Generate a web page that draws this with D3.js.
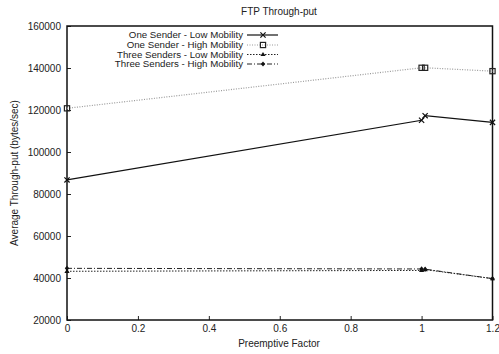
<!DOCTYPE html>
<html><head><meta charset="utf-8">
<script src="https://cdn.jsdelivr.net/npm/d3@7"></script>
<style>body{margin:0;background:#fff}svg text{font-family:"Liberation Sans",Arial,sans-serif;fill:#222}</style>
</head><body>
<svg id="c" width="499" height="354"></svg>
<script>
const xValues = [0, 1, 1.01, 1.2];
const oneLow = [86700, 115100, 117300, 114100];
const oneHigh = [120800, 140100, 140100, 138500];
const threeLow = [43200, 43600, 44000, 39700];
const threeHigh = [44600, 44300, 44200, 39700];
const seriesNames = ["One Sender - Low Mobility","One Sender - High Mobility","Three Senders - Low Mobility","Three Senders - High Mobility"];
const xTicks = [0, 0.2, 0.4, 0.6, 0.8, 1, 1.2];
const yTicks = [20000, 40000, 60000, 80000, 100000, 120000, 140000, 160000];

const svg = d3.select("#c");
const L = 67, R = 492.5, T = 26, B = 320;
const x = d3.scaleLinear().domain([0, 1.2]).range([L, R]);
const y = d3.scaleLinear().domain([20000, 160000]).range([B, T]);

const styles = [
  {stroke:"#111", dash:null, width:1.2, marker:"x"},
  {stroke:"#999", dash:"1,1.5", width:1.2, marker:"box"},
  {stroke:"#222", dash:"1.5,1.5", width:1, marker:"tri"},
  {stroke:"#222", dash:"5,2,1,2", width:1, marker:"dia"}
];
const data = [oneLow, oneHigh, threeLow, threeHigh];

const xAxis = d3.axisBottom(x).tickValues(xTicks).tickSize(-4).tickPadding(6).tickFormat(d3.format("~g"));
const yAxis = d3.axisLeft(y).tickValues(yTicks).tickSize(-4).tickPadding(6).tickFormat(d3.format("d"));
const gx = svg.append("g").attr("transform",`translate(0,${B})`).call(xAxis);
const gy = svg.append("g").attr("transform",`translate(${L},0)`).call(yAxis);
[gx, gy].forEach(g => {
  g.select(".domain").remove();
  g.selectAll("line").attr("stroke","#222");
  g.selectAll("text").attr("font-size","10px").style("font-family","'Liberation Sans',Arial,sans-serif").attr("fill","#222");
});
gx.selectAll("text").attr("dy","0.71em").attr("y",5);

svg.append("rect").attr("x",L).attr("y",T).attr("width",R-L).attr("height",B-T)
  .attr("fill","none").attr("stroke","#111").attr("stroke-width",1.5);

function marker(g, type, cx, cy, col) {
  const s = 2.6;
  if (type === "x") {
    g.append("path").attr("d",`M${cx-s},${cy-s}L${cx+s},${cy+s}M${cx-s},${cy+s}L${cx+s},${cy-s}`).attr("stroke",col).attr("stroke-width",1.2);
  } else if (type === "box") {
    g.append("rect").attr("x",cx-s).attr("y",cy-s).attr("width",2*s).attr("height",2*s).attr("fill","none").attr("stroke","#222").attr("stroke-width",1.2);
  } else if (type === "tri") {
    g.append("path").attr("d",`M${cx},${cy-s}L${cx+s},${cy+s-1}L${cx-s},${cy+s-1}Z`).attr("fill","#111");
  } else {
    g.append("path").attr("d",`M${cx},${cy-s}L${cx+s-0.4},${cy}L${cx},${cy+s}L${cx-s+0.4},${cy}Z`).attr("fill","#111");
  }
}

const line = d3.line().x((d,i)=>x(xValues[i])).y(d=>y(d));
data.forEach((vals, k) => {
  const st = styles[k];
  const g = svg.append("g");
  g.append("path").datum(vals).attr("d", line).attr("fill","none")
    .attr("stroke", st.stroke).attr("stroke-width", st.width).attr("stroke-dasharray", st.dash);
  vals.forEach((v,i) => marker(g, st.marker, x(xValues[i]), y(v), "#111"));
});

const legY = [35, 45, 54.5, 64];
seriesNames.forEach((name, k) => {
  const st = styles[k];
  const g = svg.append("g");
  g.append("text").attr("x",243).attr("y",legY[k]).attr("dy","0.35em").attr("text-anchor","end")
    .attr("font-size","9.7px").text(name);
  g.append("line").attr("x1",247).attr("x2",278).attr("y1",legY[k]).attr("y2",legY[k])
    .attr("stroke",st.stroke).attr("stroke-width",st.width).attr("stroke-dasharray",st.dash);
  marker(g, st.marker, 263, legY[k], "#111");
});

svg.append("text").attr("x",279).attr("y",15).attr("text-anchor","middle").attr("font-size","10px").text("FTP Through-put");
svg.append("text").attr("x",279).attr("y",347).attr("text-anchor","middle").attr("font-size","10px").text("Preemptive Factor");
svg.append("text").attr("transform","translate(18,173) rotate(-90)").attr("text-anchor","middle").attr("font-size","10px").text("Average Through-put (bytes/sec)");
</script>
</body></html>
